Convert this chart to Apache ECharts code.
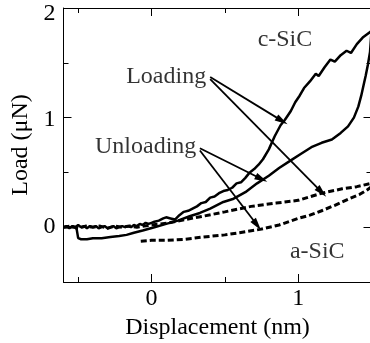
<!DOCTYPE html>
<html>
<head>
<meta charset="utf-8">
<script src="https://cdn.jsdelivr.net/npm/echarts@6/dist/echarts.min.js"></script>
<style>
  html, body { margin: 0; padding: 0; background: #fff; }
  #main { width: 370px; height: 343px; }
</style>
</head>
<body>
<div id="main"></div>
<script>
// c-SiC loading (solid, noisy)
var cLoad = [
  [-0.60, 0.00], [-0.58, 0.01], [-0.56, -0.01], [-0.54, 0.01], [-0.52, 0.00], [-0.50, 0.02],
  [-0.48, 0.00], [-0.46, 0.01], [-0.44, -0.01], [-0.42, 0.01], [-0.40, 0.00], [-0.38, 0.01],
  [-0.36, -0.01], [-0.34, 0.00], [-0.32, 0.01], [-0.30, -0.01], [-0.28, 0.00], [-0.26, 0.01],
  [-0.24, -0.01], [-0.22, 0.00], [-0.20, 0.01], [-0.18, 0.00], [-0.16, 0.01], [-0.14, 0.00],
  [-0.12, 0.02], [-0.10, 0.01], [-0.08, 0.03], [-0.06, 0.02], [-0.04, 0.04], [-0.02, 0.03],
  [0.00, 0.04], [0.02, 0.05], [0.05, 0.06], [0.08, 0.08], [0.10, 0.09], [0.13, 0.08],
  [0.16, 0.07], [0.19, 0.11], [0.22, 0.14], [0.25, 0.15], [0.28, 0.17], [0.31, 0.19],
  [0.34, 0.22], [0.37, 0.23], [0.40, 0.27], [0.43, 0.28], [0.46, 0.31], [0.49, 0.33],
  [0.52, 0.34], [0.55, 0.36], [0.58, 0.40], [0.61, 0.41], [0.64, 0.45], [0.67, 0.50],
  [0.70, 0.53], [0.73, 0.57], [0.76, 0.62], [0.80, 0.71], [0.84, 0.83], [0.88, 0.93],
  [0.91, 0.98], [0.95, 1.06], [0.98, 1.14], [1.01, 1.20], [1.04, 1.27], [1.08, 1.33],
  [1.12, 1.40], [1.14, 1.38], [1.18, 1.46], [1.22, 1.53], [1.25, 1.51], [1.29, 1.57],
  [1.33, 1.61], [1.36, 1.59], [1.40, 1.67], [1.44, 1.73], [1.47, 1.76], [1.50, 1.79]
];

// c-SiC unloading (solid, smooth)
var cUnload = [
  [1.50, 1.79], [1.49, 1.60], [1.475, 1.48], [1.46, 1.38], [1.45, 1.32], [1.43, 1.20],
  [1.41, 1.10], [1.38, 1.00], [1.34, 0.92], [1.29, 0.86], [1.23, 0.80], [1.16, 0.77],
  [1.09, 0.73], [1.02, 0.67], [0.95, 0.61], [0.87, 0.54], [0.80, 0.47], [0.72, 0.40],
  [0.64, 0.32], [0.56, 0.26], [0.49, 0.23], [0.40, 0.17], [0.33, 0.13], [0.26, 0.10],
  [0.18, 0.06], [0.10, 0.03], [0.02, 0.00], [-0.06, -0.03], [-0.12, -0.05], [-0.17, -0.07],
  [-0.22, -0.08], [-0.28, -0.09], [-0.34, -0.10], [-0.40, -0.10], [-0.44, -0.11],
  [-0.48, -0.11], [-0.50, -0.10], [-0.51, -0.02], [-0.52, 0.00], [-0.56, 0.00], [-0.60, 0.00]
];

// a-SiC loading (dashed)
var aLoad = [
  [-0.60, 0.00], [-0.55, 0.01], [-0.50, -0.01], [-0.45, 0.01], [-0.40, 0.00], [-0.35, 0.01],
  [-0.30, -0.01], [-0.25, 0.01], [-0.20, 0.00], [-0.15, 0.01], [-0.10, 0.00], [-0.05, 0.01],
  [0.00, 0.02], [0.12, 0.04], [0.23, 0.07], [0.35, 0.10], [0.50, 0.14], [0.68, 0.19],
  [0.85, 0.22], [1.00, 0.245], [1.16, 0.31], [1.30, 0.35], [1.40, 0.37], [1.50, 0.40]
];

// a-SiC unloading (dashed)
var aUnload = [
  [1.50, 0.37], [1.47, 0.34], [1.42, 0.30], [1.35, 0.26], [1.25, 0.20], [1.16, 0.15],
  [1.08, 0.11], [1.00, 0.08], [0.87, 0.02], [0.74, -0.02], [0.60, -0.05], [0.50, -0.07],
  [0.35, -0.09], [0.23, -0.11], [0.10, -0.12], [0.00, -0.12], [-0.09, -0.13]
];

// annotation texts [text, x, y] and arrows [from, to] in data units
var notes = [
  ['c-SiC', 0.91, 1.71],
  ['Loading', 0.10, 1.375],
  ['Unloading', -0.04, 0.73],
  ['a-SiC', 1.13, -0.22]
];
var arrows = [
  [[0.40, 1.37], [0.89, 0.97]],
  [[0.40, 1.35], [1.16, 0.32]],
  [[0.33, 0.72], [0.75, 0.44]],
  [[0.33, 0.70], [0.72, 0.02]]
];

var xMajor = [0, 1];
var xMinor = [-0.5, 0.5, 1.5];
var yMajor = [0, 1, 2];
var yMinor = [-0.5, 0.5, 1.5];

var FONT = 'Liberation Serif';
var FS = 24;
var chart = echarts.init(document.getElementById('main'));

function xAx(pos, ticks, len, withLine, withLabel) {
  return {
    type: 'value', min: -0.6, max: 1.5, position: pos,
    axisLine: { show: withLine, onZero: false, lineStyle: { color: '#000', width: 1 } },
    axisTick: { show: true, inside: true, length: len, customValues: ticks, lineStyle: { color: '#000', width: 1 } },
    axisLabel: { show: withLabel, customValues: ticks, margin: 5, color: '#000', fontFamily: FONT, fontSize: FS },
    splitLine: { show: false },
    name: withLabel ? 'Displacement (nm)' : '',
    nameLocation: 'middle', nameGap: 34,
    nameTextStyle: { color: '#000', fontFamily: FONT, fontSize: FS }
  };
}
function yAx(pos, ticks, len, withLine, withLabel) {
  return {
    type: 'value', min: -0.5, max: 2, position: pos,
    axisLine: { show: withLine, onZero: false, lineStyle: { color: '#000', width: 1 } },
    axisTick: { show: true, inside: true, length: len, customValues: ticks, lineStyle: { color: '#000', width: 1 } },
    axisLabel: {
      show: withLabel, customValues: ticks, margin: 8, color: '#000', fontFamily: FONT, fontSize: FS,
      formatter: function (v) { return v === 2 ? '{lo|2}' : (v === 1 ? '{mid|1}' : String(v)); },
      rich: {
        lo: { padding: [12, 0, 0, 0], color: '#000', fontFamily: FONT, fontSize: FS },
        mid: { padding: [4, 0, 0, 0], color: '#000', fontFamily: FONT, fontSize: FS }
      }
    },
    splitLine: { show: false },
    name: withLabel ? 'Load (\u03bcN)' : '',
    nameLocation: 'middle', nameGap: 24,
    nameTextStyle: { color: '#000', fontFamily: FONT, fontSize: FS }
  };
}

function curve(data, dashed) {
  return {
    type: 'line', data: data, showSymbol: false, symbol: 'none', clip: true,
    xAxisIndex: 0, yAxisIndex: 0,
    lineStyle: dashed
      ? { color: '#000', width: 3, type: [6, 3] }
      : { color: '#000', width: 2.5 },
    z: 3
  };
}

var option = {
  animation: false,
  grid: { left: 63.5, top: 8, width: 308, height: 274, outerBoundsMode: 'none', containLabel: false },
  xAxis: [
    xAx('bottom', xMajor, 8, true, true),
    xAx('bottom', xMinor, 5, false, false),
    xAx('top', xMajor, 8, true, false),
    xAx('top', xMinor, 5, false, false)
  ],
  yAxis: [
    yAx('left', yMajor, 8, true, true),
    yAx('left', yMinor, 5, false, false),
    yAx('right', yMajor, 8, false, false),
    yAx('right', yMinor, 5, false, false)
  ],
  series: [
    curve(cLoad, false),
    curve(cUnload, false),
    curve(aLoad, true),
    curve(aUnload, true),
    {
      type: 'scatter', xAxisIndex: 0, yAxisIndex: 0, symbolSize: 1,
      itemStyle: { color: 'rgba(0,0,0,0)' },
      data: notes.map(function (n) { return [n[1], n[2], n[0]]; }),
      label: {
        show: true, position: 'inside', color: '#000',
        fontFamily: FONT, fontSize: FS,
        formatter: function (p) { return p.data[2]; }
      },
      markLine: {
        silent: true, symbol: ['none', 'triangle'], symbolSize: [7, 13],
        lineStyle: { color: '#000', width: 1.8, type: 'solid' },
        label: { show: false },
        data: arrows.map(function (a) {
          return [{ coord: a[0] }, { coord: a[1] }];
        })
      },
      z: 4
    }
  ]
};
chart.setOption(option);
</script>
</body>
</html>
